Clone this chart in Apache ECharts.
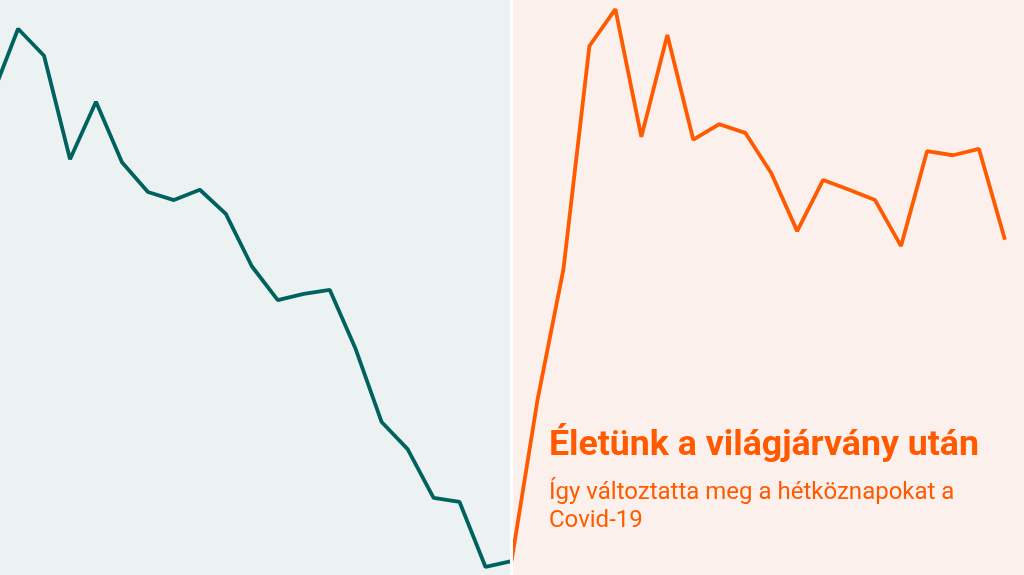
<!DOCTYPE html>
<html>
<head>
<meta charset="utf-8">
<script src="https://cdn.jsdelivr.net/npm/echarts@6/dist/echarts.min.js"></script>
<style>html,body{margin:0;padding:0;background:#fff}#c{width:1024px;height:575px}</style>
</head>
<body>
<div id="c"></div>
<script>
// Before the pandemic (teal) – weekly index, 21 points
const beforeValues = [83.3, 95.0, 90.3, 72.3, 82.3, 71.8, 66.6, 65.2, 67.0, 62.8, 53.7, 47.8, 48.9, 49.6, 39.3, 26.6, 21.9, 13.4, 12.7, 1.4, 2.4];
// After the pandemic (orange) – starts where the teal line ends
const afterValues = [2.4, 30.4, 53.2, 92.0, 98.4, 76.2, 93.9, 75.7, 78.4, 76.9, 69.9, 59.8, 68.7, 67.0, 65.2, 57.2, 73.7, 73.0, 74.1, 58.3];
const splitIndex = 20;
const titleText = 'Életünk a világjárvány után';
const subtitleText = 'Így változtatta meg a hétköznapokat a\nCovid-19';

const teal = '#00625f';
const orange = '#ff5a00';
const xMin = 0.304, xMax = 39.734;

const beforeData = beforeValues.map((v, i) => [i, v]);
const afterData = afterValues.map((v, i) => [i + splitIndex, v]);

const chart = echarts.init(document.getElementById('c'), null, {renderer: 'canvas'});
chart.setOption({
  animation: false,
  backgroundColor: '#ffffff',
  grid: {left: 0, right: 0, top: 0, bottom: 0},
  xAxis: {type: 'value', min: xMin, max: xMax, show: false},
  yAxis: {type: 'value', min: 0, max: 100, show: false},
  title: {
    text: titleText,
    subtext: subtitleText,
    left: 544,
    top: 423,
    itemGap: 15,
    textStyle: {fontFamily: 'Roboto', fontWeight: 'bold', fontSize: 35.7, color: orange},
    subtextStyle: {fontFamily: 'Roboto', fontWeight: 'normal', fontSize: 24, lineHeight: 28, color: orange}
  },
  series: [
    {
      type: 'line', data: [], z: 0, silent: true,
      markArea: {
        silent: true,
        data: [
          [{xAxis: xMin, itemStyle: {color: '#ecf2f2'}}, {xAxis: splitIndex}],
          [{xAxis: splitIndex, itemStyle: {color: '#fcf0ec'}}, {xAxis: xMax}]
        ]
      },
      markLine: {
        silent: true, symbol: 'none', label: {show: false},
        lineStyle: {color: '#ffffff', width: 3, type: 'solid'},
        data: [{xAxis: splitIndex}]
      }
    },
    {
      type: 'line', data: beforeData, z: 3, symbol: 'none',
      lineStyle: {color: teal, width: 3.8}
    },
    {
      type: 'line', data: afterData, z: 4, symbol: 'none',
      lineStyle: {color: orange, width: 3.8}
    }
  ]
});
</script>
</body>
</html>
